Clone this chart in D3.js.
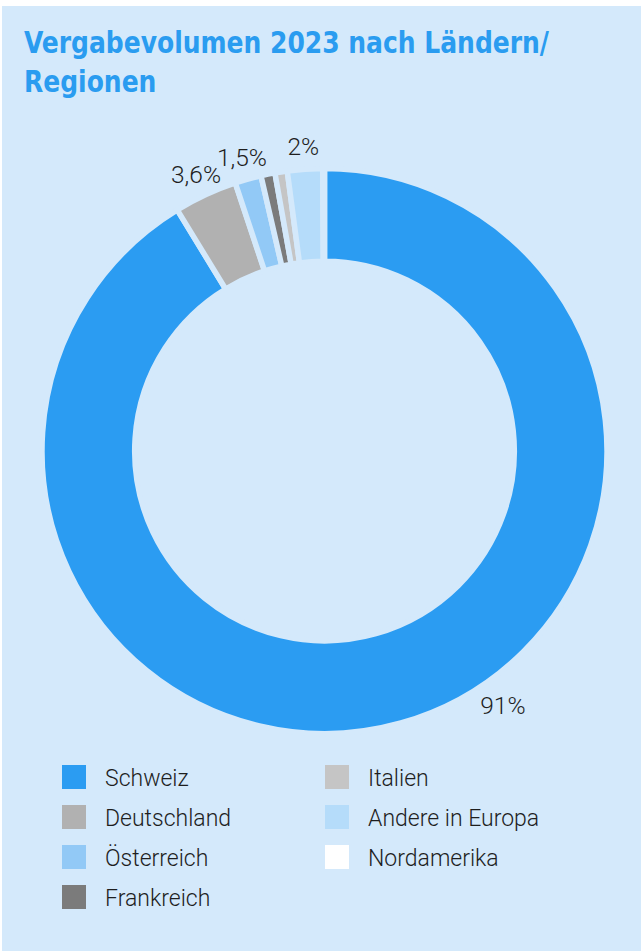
<!DOCTYPE html>
<html>
<head>
<meta charset="utf-8">
<script src="https://cdn.jsdelivr.net/npm/d3@7"></script>
<style>
  body { margin: 0; background: #fff; }
  text { font-family: Roboto, "Liberation Sans", sans-serif; }
</style>
</head>
<body>
<div id="chart"></div>
<script>
var categories = ['Schweiz', 'Deutschland', 'Österreich', 'Frankreich', 'Italien', 'Andere in Europa', 'Nordamerika'];
var values = [91, 3.6, 1.5, 0.8, 0.7, 2, 0.1];
var colors = ['#2b9cf2', '#b1b1b1', '#92c9f6', '#7b7b7b', '#c5c5c5', '#b5dcfa', '#ffffff'];
var titleLines = ['Vergabevolumen 2023 nach Ländern/', 'Regionen'];

var width = 643, height = 951;
var bg = '#d4e9fb';

var svg = d3.select('#chart').append('svg')
    .attr('width', width)
    .attr('height', height);

svg.append('rect')
    .attr('x', 2).attr('y', 6)
    .attr('width', 639).attr('height', 945)
    .attr('fill', bg);

// title, squeezed to the condensed look of the original
var title = svg.append('g');
var t1 = title.append('text')
    .attr('x', 24).attr('y', 53)
    .style('font-family', '"DejaVu Sans Condensed", "Liberation Sans", sans-serif')
    .style('font-weight', 'bold')
    .style('font-size', '31px')
    .attr('fill', '#2a9cf0')
    .text(titleLines[0]);
var t2 = title.append('text')
    .attr('x', 24).attr('y', 92)
    .style('font-family', '"DejaVu Sans Condensed", "Liberation Sans", sans-serif')
    .style('font-weight', 'bold')
    .style('font-size', '31px')
    .attr('fill', '#2a9cf0')
    .text(titleLines[1]);
var k = 525 / t1.node().getComputedTextLength();
t1.attr('textLength', 525).attr('lengthAdjust', 'spacingAndGlyphs');
t2.attr('textLength', t2.node().getComputedTextLength() * k).attr('lengthAdjust', 'spacingAndGlyphs');

// donut
var cx = 324.5, cy = 451;
var outer = 282.5, inner = 189.8;

var pie = d3.pie().sort(null).value(function(d) { return d; });
var arcs = pie(values);

var arc = d3.arc().innerRadius(inner).outerRadius(outer);

var g = svg.append('g')
    .attr('transform', 'translate(' + cx + ',' + cy + ')');

g.selectAll('path')
    .data(arcs)
    .enter()
    .append('path')
    .attr('d', arc)
    .attr('fill', function(d, i) { return colors[i]; })
    .attr('stroke', bg)
    .attr('stroke-width', 5.5);

var fmt = function(v) { return String(v).replace('.', ',') + '%'; };
var labelR = 305;

g.selectAll('.lbl')
    .data(arcs.filter(function(d) { return d.value >= 1.5; }))
    .enter()
    .append('text')
    .attr('class', 'lbl')
    .attr('text-anchor', 'middle')
    .attr('dominant-baseline', 'central')
    .style('font-size', '24.5px')
    .style('font-weight', 300)
    .attr('fill', '#1e1e1e')
    .attr('transform', function(d) {
        var a = (d.startAngle + d.endAngle) / 2, r = labelR;
        if (d.index === 0) { a = 145 * Math.PI / 180; r = 311; }
        return 'translate(' + (r * Math.sin(a)) + ',' + (-r * Math.cos(a)) + ')';
    })
    .text(function(d) { return fmt(d.value); });

// legend, column-major, 4 rows
var legend = svg.append('g');
var item = legend.selectAll('g')
    .data(categories)
    .enter()
    .append('g')
    .attr('transform', function(d, i) {
        var col = Math.floor(i / 4), row = i % 4;
        return 'translate(' + (62 + col * 263) + ',' + (765 + row * 40) + ')';
    });

item.append('rect')
    .attr('width', 24).attr('height', 24)
    .attr('fill', function(d, i) { return colors[i]; });

item.append('text')
    .attr('x', 43).attr('y', 13)
    .attr('dominant-baseline', 'central')
    .style('font-size', '23px')
    .style('font-weight', 300)
    .attr('fill', '#1e1e1e')
    .text(function(d) { return d; });
</script>
</body>
</html>
